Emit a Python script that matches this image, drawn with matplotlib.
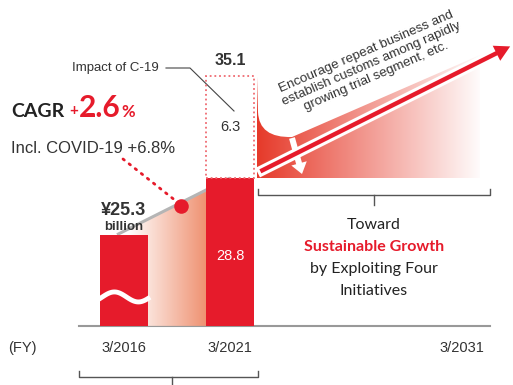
import numpy as np
import matplotlib
matplotlib.use('Agg')
import matplotlib.pyplot as plt
from matplotlib.patches import PathPatch, FancyArrow
from matplotlib.path import Path
from matplotlib.colors import to_rgba

plt.rcParams['font.family'] = ['Liberation Sans', 'DejaVu Sans']

# data (billion yen)
years = ['3/2016', '3/2021', '3/2031']
sales = [25.3, 28.8]
covid_impact = 6.3
total_2021 = 35.1
cagr = 2.6
cagr_covid = 6.8

RED = '#e61b2b'
DARK = '#333333'
GRAY = '#999999'

# layout (pixels)
W, H = 513, 385
bar_x = [124, 230, 462]
bar_w = 48
base = 19.67          # broken axis: value at the baseline
ylo, yhi = 16.02, 39.79


def gradient_fill(axis, path, x0, x1, y0, y1, c0, c1, z):
    cols = np.linspace(to_rgba(c0), to_rgba(c1), 256)[None, :, :]
    im = axis.imshow(cols, extent=(x0, x1, y0, y1), aspect='auto',
                     interpolation='bilinear', zorder=z)
    patch = PathPatch(path, transform=axis.transData, fc='none', ec='none')
    axis.add_patch(patch)
    im.set_clip_path(patch)


fig = plt.figure(figsize=(W / 100, H / 100), dpi=100)

# background canvas in pixel coords
bg = fig.add_axes([0, 0, 1, 1])
bg.set_xlim(0, W)
bg.set_ylim(H, 0)
bg.axis('off')

# chart axes in value units
ax = fig.add_axes([0, 0, 1, 1], zorder=2)
ax.patch.set_alpha(0)
ax.axis('off')

# --- right side swoosh and arrow ---
sw = Path([(257, 77), (258, 112), (259, 138), (292, 137), (480, 55),
           (480, 178), (257, 178), (257, 77)],
          [Path.MOVETO, Path.LINETO, Path.CURVE3, Path.CURVE3, Path.LINETO,
           Path.LINETO, Path.LINETO, Path.CLOSEPOLY])
gradient_fill(bg, sw, 257, 484, 178, 50, '#e63a2a', '#ffffff', 1)

bg.add_patch(FancyArrow(292, 138, 10, 36, width=6, head_width=16,
                        head_length=11, length_includes_head=True,
                        fc='white', ec='none', zorder=2))
bg.add_patch(FancyArrow(259, 172, 254, -127, width=7.5, head_width=22,
                        head_length=20, length_includes_head=True,
                        fc=RED, ec='white', lw=2.2, zorder=3))

bg.text(371, 64, 'Encourage repeat business and\nestablish customs among rapidly\ngrowing trial segment, etc.',
        rotation=23.5, rotation_mode='anchor', ha='center', va='center',
        fontsize=9.6, color=DARK, linespacing=1.12, zorder=4)

# --- bars ---
ax.set_xlim(0, W)
ax.set_ylim(ylo, yhi)

# shaded growth area between bars
x_start = bar_x[0] - 7
area = Path([(x_start, sales[0]), (bar_x[1], sales[1]), (bar_x[1], base),
             (x_start, base), (x_start, sales[0])])
gradient_fill(ax, area, 128, bar_x[1] - bar_w / 2, base, sales[1],
              '#ffffff', '#ef9272', 1)
ax.plot([x_start, bar_x[1]], [sales[0], sales[1]], color='#b5b5b5',
        lw=2.2, zorder=2, solid_capstyle='butt')

ax.bar(bar_x[:2], [v - base for v in sales], bottom=base, width=bar_w,
       color=RED, zorder=3)
ax.bar(bar_x[1], covid_impact, bottom=sales[1], width=bar_w, fill=False,
       edgecolor='#ef6b72', linestyle=(0, (1, 1.6)), lw=1.3, zorder=3)

# dot on the growth line
t = 0.57
dot_x = x_start + t * (bar_x[1] - x_start)
dot_y = sales[0] + t * (sales[1] - sales[0])
ax.scatter([dot_x], [dot_y - 0.2], s=110, color=RED, zorder=4, lw=0)

# bar labels
ax.text(bar_x[1], (base + sales[1]) / 2 - 0.25, f'{sales[1]}', ha='center',
        va='center', color='white', fontsize=10.5, zorder=5)
ax.text(bar_x[1], sales[1] + covid_impact / 2, f'{covid_impact}',
        ha='center', va='center', color=DARK, fontsize=10.5, zorder=5)
ax.annotate(f'{total_2021}', (bar_x[1], total_2021), xytext=(0, 6),
            textcoords='offset points', ha='center', va='bottom',
            fontsize=11.5, fontweight='bold', color=DARK, zorder=5)
ax.annotate(f'¥{sales[0]}', (bar_x[0], sales[0]), xytext=(0, 14),
            textcoords='offset points', ha='center', va='baseline',
            fontsize=13, fontweight='bold', color=DARK, zorder=5)
ax.annotate('billion', (bar_x[0], sales[0]), xytext=(0, 3.5),
            textcoords='offset points', ha='center', va='baseline',
            fontsize=9.5, fontweight='bold', color=DARK, zorder=5)

# broken-axis wave on the first bar
wx = np.linspace(bar_x[0] - bar_w / 2, bar_x[0] + bar_w / 2, 60)
wy = 297 + 5 * np.sin((wx - wx[0]) / bar_w * 2 * np.pi + np.pi * 0.9)
ax.plot(wx, yhi - wy / 16.2, color='white', lw=3.5, zorder=4)

# baseline
bg.plot([79, 490], [326, 326], color=GRAY, lw=1.5, zorder=1)

# x labels
bg.text(22, 348, '(FY)', ha='center', va='center', fontsize=10.5, color=DARK)
for x, lab in zip(bar_x, years):
    bg.text(x, 348, lab, ha='center', va='center', fontsize=10.5, color=DARK)

# brackets
bc = '#555555'
bg.plot([79, 79, 258, 258], [371, 377, 377, 371], color=bc, lw=1)
bg.plot([172, 172], [377, 385], color=bc, lw=1)
bg.plot([258, 258, 490, 490], [189, 195, 195, 189], color=bc, lw=1)
bg.plot([374, 374], [195, 205], color=bc, lw=1)

# right-side caption
geo = ['Lato', 'DejaVu Sans']
bg.text(374, 225, 'Toward', ha='center', va='center', fontsize=11.5,
        family=geo, color='#222222')
bg.text(374, 247, 'Sustainable Growth', ha='center', va='center',
        fontsize=11.5, family=geo, fontweight='bold', color=RED)
bg.text(374, 269, 'by Exploiting Four', ha='center', va='center',
        fontsize=11.5, family=geo, color='#222222')
bg.text(374, 291, 'Initiatives', ha='center', va='center', fontsize=11.5,
        family=geo, color='#222222')

# CAGR block
bg.text(11, 117, 'CAGR', ha='left', va='baseline', fontsize=14,
        family=geo, fontweight='bold', color='#222222')
bg.text(69, 115, '+', ha='left', va='baseline', fontsize=11,
        family=geo, fontweight='bold', color=RED)
bg.text(79, 117, f'{cagr}', ha='left', va='baseline', fontsize=21.5,
        family=geo, fontweight='bold', color=RED)
bg.text(121, 117, '%', ha='left', va='baseline', fontsize=12,
        family=geo, fontweight='bold', color=RED)
bg.text(11, 153, f'Incl. COVID-19 +{cagr_covid}%', ha='left',
        va='baseline', fontsize=12, color=DARK)

# leaders
bg.plot([123, 181], [159, 205], color=RED, lw=2, ls=(0, (0.6, 2.2)),
        dash_capstyle='round', zorder=1)
bg.text(72, 68, 'Impact of C-19', ha='left', va='center', fontsize=9.5,
        color=DARK)
bg.plot([166, 190, 234], [68, 68, 111], color='#444444', lw=0.8)

fig.savefig('out.png', dpi=100)
